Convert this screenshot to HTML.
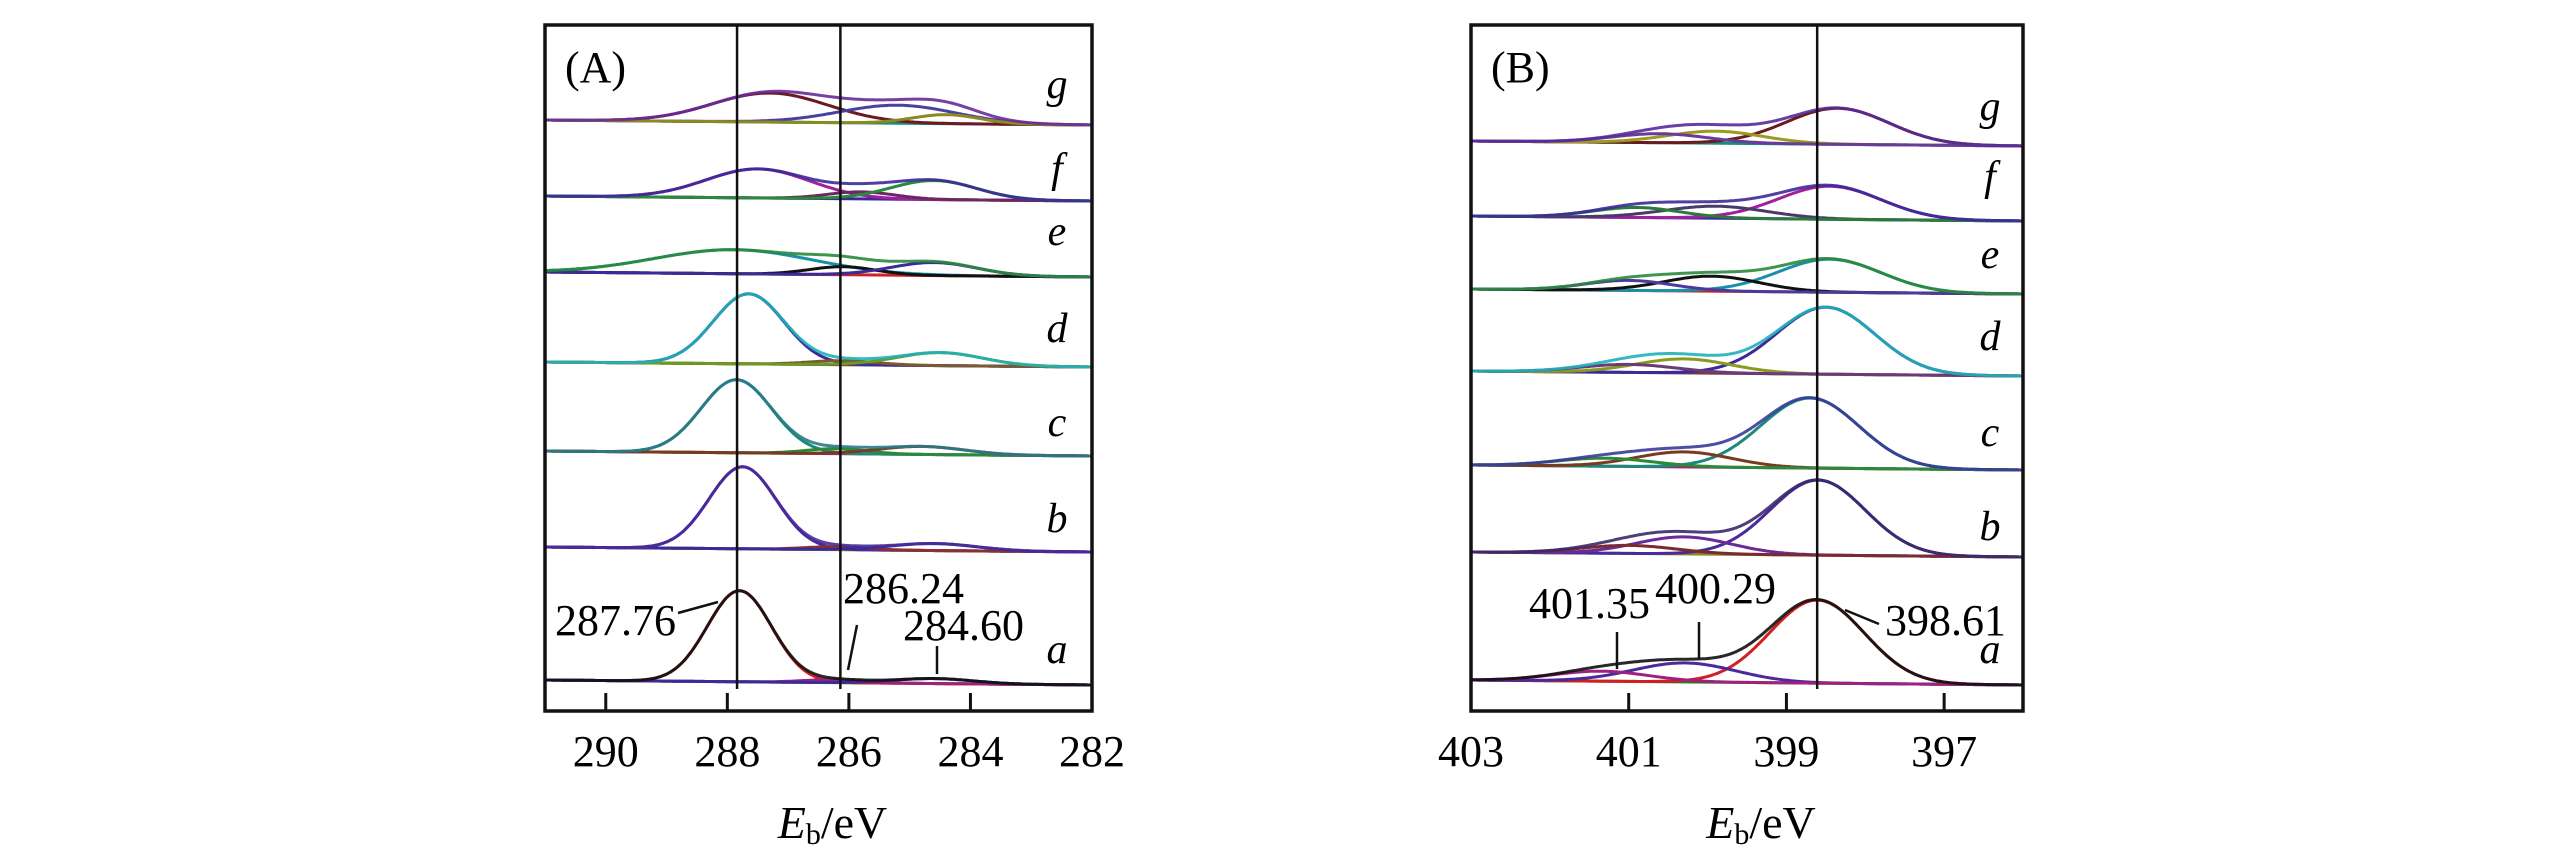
<!DOCTYPE html>
<html><head><meta charset="utf-8"><style>
html,body{margin:0;padding:0;background:#fff;}
svg{display:block;}
text{font-family:"Liberation Serif",serif;fill:#000;}
</style></head><body>
<svg id="chart" width="2567" height="866" viewBox="0 0 2567 866">
<g id="panelA"></g>
<g id="panelB"></g>
</svg>
<script>
// ---- data ----
const sampleLabels = ["a","b","c","d","e","f","g"];
const ticksA = [290,288,286,284,282];
const ticksB = [403,401,399,397];
const refLinesA = [287.84,286.14];
const refLinesB = [398.61];
// panel A components per sample: centres (eV), heights (a.u.), widths (eV sigma)
const centersA = [[287.8,286.24,284.60],[287.75,286.2,284.6],[287.85,286.2,284.8],[287.65,286.1,284.5],[287.9,286.1,284.6],[287.5,285.8,284.6],[287.3,285.2,284.4]];
const heightsA = [[91,3,5],[82,3,7],[73,5,8],[70,4,13],[24,8,13],[29,7,19],[29,18,9]];
const widthsA  = [[0.53,0.5,0.65],[0.55,0.5,0.7],[0.58,0.5,0.7],[0.58,0.55,0.7],[1.3,0.55,0.7],[0.85,0.55,0.7],[0.95,0.95,0.55]];
const colorsA  = [["#d02020","#a02080","#3a2a9a"],["#4a2a9a","#8a3030","#3a2a9a"],["#1a8a7a","#2a8a3a","#7a3a20"],["#3a2a9a","#7a5a30","#6a9a20"],["#1a90a8","#111111","#3a2a9a"],["#a020a0","#6a2a60","#2a8a3a"],["#6a1a20","#4a40a0","#8a8a20"]];
const envColorsA = ["#111111","#4a2a9a","#2a7a8a","#20b0b8","#2a8a3a","#3a2a9a","#6a2a9a"];
const baseColorsA = ["#2a7a2a","#8a8a20","#a02080","#7a3a40","#d02020","#3a2a9a","#1a8a7a"];
// panel B
const centersB = [[398.61,400.29,401.35],[398.6,400.3,401.0],[398.7,400.3,401.3],[398.5,400.3,401.0],[398.45,399.95,401.0],[398.45,399.9,400.9],[398.35,399.9,400.6]];
const heightsB = [[83,19,10],[75,17,8],[70,15,8],[67,14,8],[33,15,10],[33,12,10],[36,12,9]];
const widthsB  = [[0.6,0.65,0.6],[0.6,0.6,0.6],[0.62,0.6,0.6],[0.62,0.6,0.6],[0.65,0.6,0.55],[0.65,0.65,0.55],[0.65,0.6,0.6]];
const colorsB  = [["#d02020","#4a2a9a","#a02080"],["#4a2a9a","#6a2a9a","#7a2a30"],["#1a8a7a","#7a3a20","#2a8a3a"],["#3a2a9a","#8a9a20","#6a3a7a"],["#1a90a8","#111111","#4a3a9a"],["#a020a0","#4a3a6a","#2a7a3a"],["#6a1a20","#9a9a20","#6a3a9a"]];
const envColorsB = ["#111111","#3a2a6a","#3a3a9a","#20b0b8","#2a8a3a","#3a2a9a","#5a2a9a"];
const baseColorsB = ["#2a7a2a","#8a8a20","#a02080","#7a3a40","#d02020","#3a2a9a","#1a8a7a"];

const NS="http://www.w3.org/2000/svg";
function mk(tag,attrs,parent){const e=document.createElementNS(NS,tag);for(const k in attrs)e.setAttribute(k,attrs[k]);parent.appendChild(e);return e;}

function drawPanel(g,cfg){
  const {x0,x1,y0,y1,eMax,eMin,ticks,refLines,centers,heights,widths,colors,envColors,baseColors,baselines,labelX,labelYs,title}=cfg;
  const xs=e=>x0+(eMax-e)/(eMax-eMin)*(x1-x0);
  const gauss=(e,c,h,w)=>h*Math.exp(-0.5*((e-c)/w)**2);
  for(let s=0;s<sampleLabels.length;s++){
    const base=baselines[s];
    const sg=mk("g",{},g);
    
    
    const bl=mk("line",{x1:x0,y1:base,x2:x1,y2:base+5,stroke:baseColors[s],"stroke-width":3},sg);
    
    
    const N=300;
    for(let k=0;k<centers[s].length;k++){
      let d="";
      for(let i=0;i<=N;i++){const e=eMax-(eMax-eMin)*i/N;const x=xs(e);const y=base+5*i/N-gauss(e,centers[s][k],heights[s][k],widths[s][k]);d+=(i?"L":"M")+x.toFixed(1)+","+y.toFixed(1);}
      const p=mk("path",{d:d,fill:"none",stroke:colors[s][k],"stroke-width":3},sg);
      
      
    }
    let d="";
    for(let i=0;i<=N;i++){const e=eMax-(eMax-eMin)*i/N;const x=xs(e);let v=0;for(let k=0;k<centers[s].length;k++)v+=gauss(e,centers[s][k],heights[s][k],widths[s][k]);const y=base+5*i/N-v;d+=(i?"L":"M")+x.toFixed(1)+","+y.toFixed(1);}
    const env=mk("path",{d:d,fill:"none",stroke:envColors[s],"stroke-width":3,opacity:0.9},sg);
    
    
    const t=mk("text",{x:labelX,y:labelYs[s],"font-size":42,"font-style":"italic","text-anchor":"middle"},sg);
    t.textContent=sampleLabels[s];
    
    
  }
  for(const r of refLines){
    const l=mk("line",{x1:xs(r),y1:y0,x2:xs(r),y2:689,stroke:"#111","stroke-width":2.5},g);
    
    
  }
  const fr=mk("rect",{x:x0,y:y0,width:x1-x0,height:y1-y0,fill:"none",stroke:"#111","stroke-width":3.5},g);
  
  
  for(const t of ticks){
    const x=xs(t);
    if(x>x0+2&&x<x1-2){const tl=mk("line",{x1:x,y1:y1,x2:x,y2:y1-18,stroke:"#111","stroke-width":3},g);
      
      }
    const tt=mk("text",{x:x,y:766,"font-size":44,"text-anchor":"middle"},g);
    tt.textContent=t;
    
    
  }
  const tl=mk("text",{x:x0+20,y:82,"font-size":44},g);
  tl.textContent=title;
  
  
  const cx=(x0+x1)/2+14;
  const at=mk("text",{x:cx,y:838,"font-size":46,"text-anchor":"middle"},g);
  at.innerHTML='<tspan font-style="italic">E</tspan><tspan font-size="30" dy="6">b</tspan><tspan dy="-6">/eV</tspan>';
  
  
}

const gA=document.getElementById('panelA');
drawPanel(gA,{x0:545,x1:1092,y0:25,y1:711,eMax:291,eMin:282,ticks:ticksA,refLines:refLinesA,
  centers:centersA,heights:heightsA,widths:widthsA,colors:colorsA,envColors:envColorsA,baseColors:baseColorsA,
  baselines:[680,547,451,362,272,196,120],labelX:1057,labelYs:[663,532,436,342,245,182,98],title:"(A)"});
const gB=document.getElementById('panelB');
drawPanel(gB,{x0:1471,x1:2023,y0:25,y1:711,eMax:403,eMin:396,ticks:ticksB,refLines:refLinesB,
  centers:centersB,heights:heightsB,widths:widthsB,colors:colorsB,envColors:envColorsB,baseColors:baseColorsB,
  baselines:[680,552,465,371,289,216,141],labelX:1990,labelYs:[663,540,446,350,268,190,120],title:"(B)"});

const ann=[["287.76",555,635,gA],["286.24",843,603,gA],["284.60",903,640,gA],["401.35",1529,618,gB],["400.29",1655,603,gB],["398.61",1885,635,gB]];
for(const a of ann){
  const t=mk("text",{x:a[1],y:a[2],"font-size":44},a[3]);
  t.textContent=a[0];
  
  
}
const leaders=[[678,613,718,602],[857,625,848,670],[937,646,937,674],[1617,632,1617,669],[1699,622,1699,659],[1879,624,1845,610]];
for(const l of leaders){
  const ln=mk("line",{x1:l[0],y1:l[1],x2:l[2],y2:l[3],stroke:"#111","stroke-width":2.5},document.getElementById('chart'));
  
  
}
</script>
</body></html>
